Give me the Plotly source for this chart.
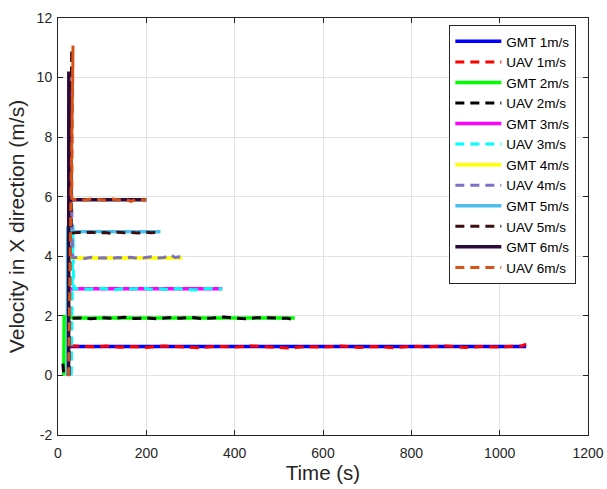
import plotly.graph_objects as go

# ---------------- data ----------------
labels = ["GMT 1m/s", "UAV 1m/s", "GMT 2m/s", "UAV 2m/s", "GMT 3m/s", "UAV 3m/s",
          "GMT 4m/s", "UAV 4m/s", "GMT 5m/s", "UAV 5m/s", "GMT 6m/s", "UAV 6m/s"]

t_g1 = [22, 23, 1060]
v_g1 = [0, 0.97, 0.97]
t_u1 = [25, 26, 27, 50, 80, 110, 140, 170, 200, 240, 280, 320, 360, 400, 440, 480, 520,
        560, 600, 640, 680, 720, 760, 800, 840, 880, 920, 960, 1000, 1030, 1050, 1060]
v_u1 = [0.0, 0.5, 1.0, 0.98, 0.96, 0.99, 0.95, 0.97, 0.94, 0.99, 0.96, 0.93, 0.98, 0.95,
        0.99, 0.96, 0.92, 0.97, 0.95, 0.99, 0.94, 0.97, 0.93, 0.98, 0.96, 0.99, 0.94, 0.97,
        0.95, 0.98, 0.99, 1.05]

t_g2 = [13, 14, 40, 536]
v_g2 = [0, 1.97, 1.93, 1.93]
t_u2 = [11, 13, 22, 24, 26, 50, 75, 100, 125, 150, 175, 200, 225, 250, 275, 300, 325, 350,
        375, 400, 425, 450, 475, 500, 520, 536]
v_u2 = [0.4, 0.05, 0.0, 1.0, 1.92, 1.93, 1.90, 1.94, 1.92, 1.95, 1.91, 1.93, 1.90, 1.94,
        1.92, 1.95, 1.91, 1.93, 1.96, 1.92, 1.90, 1.94, 1.93, 1.91, 1.92, 1.86]

t_g3 = [22, 23, 40, 372]
v_g3 = [0, 2.9, 2.91, 2.91]
t_u3 = [30, 34, 35, 36, 50, 70, 90, 110, 130, 150, 170, 190, 210, 230, 250, 270, 290, 310,
        330, 350, 372]
v_u3 = [0.0, 5.05, 3.3, 2.9, 2.92, 2.89, 2.93, 2.90, 2.88, 2.92, 2.90, 2.94, 2.89, 2.91,
        2.88, 2.92, 2.90, 2.87, 2.91, 2.92, 2.90]

t_g4 = [23, 24, 281]
v_g4 = [0, 3.94, 3.94]
t_u4 = [26, 29, 31, 33, 45, 60, 75, 90, 105, 120, 135, 150, 165, 180, 195, 210, 225, 240,
        255, 265, 275, 281]
v_u4 = [0.0, 9.6, 5.8, 3.95, 3.96, 3.93, 3.97, 3.94, 3.95, 3.92, 3.96, 3.94, 3.97, 3.93,
        3.95, 3.98, 3.94, 3.96, 4.05, 3.96, 3.98, 3.97]

t_g5 = [21, 22, 30, 232]
v_g5 = [0, 5.0, 4.83, 4.82]
t_u5 = [24, 31, 30, 32, 45, 60, 75, 90, 105, 120, 135, 150, 165, 180, 195, 210, 226]
v_u5 = [0.0, 10.95, 4.8, 4.78, 4.80, 4.79, 4.81, 4.78, 4.80, 4.77, 4.81, 4.79, 4.80, 4.78,
        4.81, 4.79, 4.80]

t_g6 = [24, 24.5, 26, 200]
v_g6 = [0, 10.2, 5.9, 5.9]
t_u6 = [24, 34, 31, 35, 45, 55, 65, 75, 85, 95, 105, 115, 125, 135, 145, 155, 165, 175,
        185, 193, 200]
v_u6 = [-0.03, 11.08, 5.95, 5.90, 5.91, 5.88, 5.90, 5.92, 5.89, 5.91, 5.88, 5.90, 5.92,
        5.89, 5.91, 5.90, 5.84, 5.90, 5.92, 5.89, 5.90]

x_ticks = [0, 200, 400, 600, 800, 1000, 1200]
y_ticks = [-2, 0, 2, 4, 6, 8, 10, 12]

# ---------------- styles ----------------
colors = ["#0000FF", "#FF0000", "#00FF00", "#000000", "#FF00FF", "#00FFFF",
          "#FFFF00", "#7E70C4", "#4DBEEE", "#3A0E10", "#2D0A3A", "#D95319"]

series = [(t_g1, v_g1), (t_u1, v_u1), (t_g2, v_g2), (t_u2, v_u2), (t_g3, v_g3), (t_u3, v_u3),
          (t_g4, v_g4), (t_u4, v_u4), (t_g5, v_g5), (t_u5, v_u5), (t_g6, v_g6), (t_u6, v_u6)]

FONT = "Liberation Sans, Arial, Helvetica, sans-serif"
TXT = "#262626"

fig = go.Figure()
for (t, v), name, col in zip(series, labels, colors):
    is_uav = name.startswith("UAV")
    fig.add_trace(go.Scatter(
        x=t, y=v, mode="lines", name=name,
        line=dict(color=col, width=3 if is_uav else 3.5,
                  dash="9px,6px" if is_uav else "solid"),
    ))

fig.update_layout(
    width=607, height=489,
    margin=dict(l=58, r=19, t=18, b=54, autoexpand=False),
    paper_bgcolor="white", plot_bgcolor="white",
    font=dict(family=FONT, color=TXT, size=14),
    showlegend=True,
    legend=dict(
        x=0.978, y=0.983, xanchor="right", yanchor="top",
        bgcolor="white", bordercolor=TXT, borderwidth=1,
        font=dict(family=FONT, size=13.5, color="#000000"),
        tracegroupgap=0, itemwidth=46,
    ),
    xaxis=dict(
        range=[0, 1200], tickvals=x_ticks, ticktext=[str(v) for v in x_ticks],
        showgrid=True, gridcolor="#E3E3E3", gridwidth=1,
        showline=True, linecolor=TXT, linewidth=1, mirror="ticks",
        ticks="inside", ticklen=5, tickcolor=TXT, ticklabelstandoff=5,
        zeroline=False, automargin=False,
        title=dict(text="Time (s)", font=dict(size=20.5, family=FONT, color=TXT), standoff=4),
        tickfont=dict(size=14, family=FONT, color=TXT),
    ),
    yaxis=dict(
        range=[-2, 12], tickvals=y_ticks, ticktext=[str(v) for v in y_ticks],
        showgrid=True, gridcolor="#E3E3E3", gridwidth=1,
        showline=True, linecolor=TXT, linewidth=1, mirror="ticks",
        ticks="inside", ticklen=5, tickcolor=TXT, ticklabelstandoff=2,
        zeroline=False, automargin=False,
        title=dict(text="Velocity in X direction (m/s)", font=dict(size=21, family=FONT, color=TXT), standoff=6),
        tickfont=dict(size=14, family=FONT, color=TXT),
    ),
)

fig.write_html("out.html", config={"displayModeBar": False},
               post_script="document.body.style.margin='0';")
